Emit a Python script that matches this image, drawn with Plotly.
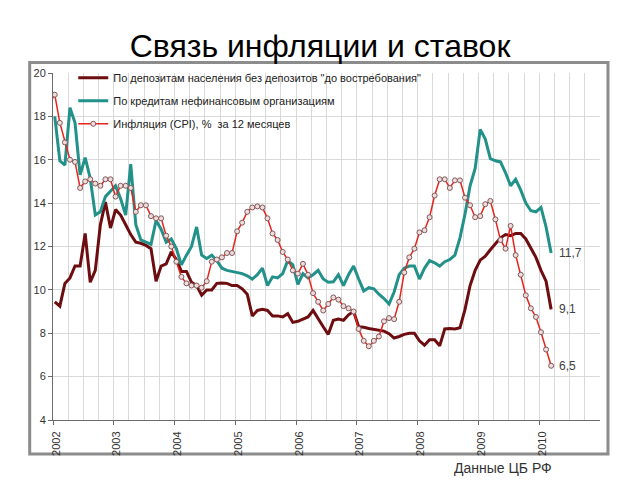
import plotly.graph_objects as go

# ---------------- data (monthly, %) ----------------
deposit_rate = [
    9.45, 9.25, 10.3, 10.55, 11.1, 11.1, 12.6, 10.35, 10.9, 13.0, 14.05, 12.85,   # 2002
    13.7, 13.45, 13.0, 12.55, 12.2, 12.15, 12.05, 11.9, 10.4, 11.1, 11.2, 11.75,  # 2003
    11.4, 10.85, 10.85, 10.35, 10.2, 9.75, 10.0, 10.0, 10.3, 10.32, 10.3, 10.2,   # 2004
    10.2, 10.05, 9.8, 8.8, 9.05, 9.1, 9.05, 8.8, 8.8, 8.75, 8.9, 8.5,             # 2005
    8.55, 8.65, 8.75, 9.05, 8.65, 8.3, 7.95, 8.6, 8.65, 8.6, 8.85, 9.0,           # 2006
    8.3, 8.28, 8.22, 8.17, 8.14, 8.1, 7.98, 7.78, 7.85, 7.95, 8.0, 8.0,           # 2007
    7.65, 7.45, 7.7, 7.7, 7.42, 8.2, 8.22, 8.2, 8.25, 9.1, 10.2, 10.9,            # 2008
    11.37, 11.55, 11.85, 12.15, 12.4, 12.55, 12.5, 12.6, 12.6, 12.35, 11.95, 11.5,# 2009
    10.9, 10.4, 9.1,                                                              # 2010
]
credit_rate = [
    18.0, 15.95, 15.75, 18.4, 17.7, 15.3, 16.1, 15.15, 13.45, 13.6, 14.3, 14.55,  # 2002
    14.8, 14.2, 13.45, 15.8, 13.0, 12.3, 12.2, 12.1, 13.2, 12.8, 12.2, 12.35,     # 2003
    11.9, 11.15, 11.6, 12.0, 12.9, 11.6, 11.45, 11.6, 11.35, 11.0, 10.9, 10.85,   # 2004
    10.8, 10.75, 10.65, 10.5, 10.7, 11.0, 10.2, 10.6, 10.55, 10.75, 11.35, 11.15, # 2005
    10.25, 10.75, 10.55, 10.7, 10.9, 10.5, 10.35, 10.37, 10.7, 10.2, 10.7, 11.1,  # 2006
    10.5, 9.95, 10.1, 10.05, 9.8, 9.6, 9.35, 9.9, 10.7, 11.0, 11.1, 11.1,         # 2007
    10.5, 11.0, 11.35, 11.25, 11.1, 11.3, 11.4, 11.6, 12.4, 13.5, 14.8, 15.6,     # 2008
    17.4, 16.95, 16.05, 15.95, 15.9, 15.4, 14.8, 15.1, 14.6, 14.0, 13.65, 13.6,   # 2009
    13.8, 12.9, 11.7,                                                             # 2010
]
inflation = [
    18.6,                                                                         # Dec 2001
    19.0, 17.7, 16.8, 16.0, 15.9, 14.7, 15.0, 15.1, 14.9, 14.8, 15.1, 15.1,       # 2002
    14.3, 14.8, 14.8, 14.7, 13.6, 13.9, 13.9, 13.4, 13.3, 13.3, 12.5, 12.0,       # 2003
    11.3, 10.6, 10.3, 10.2, 10.2, 10.1, 10.4, 11.3, 11.4, 11.5, 11.7, 11.7,       # 2004
    12.7, 13.1, 13.6, 13.8, 13.85, 13.8, 13.3, 12.6, 12.3, 11.75, 11.4, 10.9,     # 2005
    10.75, 11.2, 10.7, 9.85, 9.45, 9.05, 9.35, 9.65, 9.55, 9.25, 9.15, 9.0,       # 2006
    8.2, 7.65, 7.4, 7.65, 7.85, 8.55, 8.7, 8.65, 9.45, 10.8, 11.5, 11.9,          # 2007
    12.65, 12.75, 13.35, 14.35, 15.1, 15.1, 14.7, 15.05, 15.05, 14.25, 13.9, 13.35,  # 2008
    13.4, 13.95, 14.1, 13.25, 12.3, 11.9, 12.95, 11.6, 10.7, 9.75, 9.15, 8.75,    # 2009
    8.05, 7.25, 6.5,                                                              # 2010
]
rates_start = (2002, 1)
inflation_start = (2001, 12)
year_ticks = [2002, 2003, 2004, 2005, 2006, 2007, 2008, 2009, 2010]
names = [
    'По депозитам населения без депозитов "до востребования"',
    'По кредитам нефинансовым организациям',
    'Инфляция (CPI), %  за 12 месяцев',
]
title_text = "Связь инфляции и ставок"
source_text = "Данные ЦБ РФ"


def month_axis(start, n):
    y, m = start
    return [y + (m - 1 + i + 0.35) / 12.0 for i in range(n)]


x_rates = month_axis(rates_start, len(deposit_rate))
x_infl = month_axis(inflation_start, len(inflation))

C_DEP = "#6d0d10"
C_CRED = "#21918a"
C_INFL = "#e8231c"
FONT = "Liberation Sans, Arial, sans-serif"

fig = go.Figure()
fig.add_trace(go.Scatter(x=x_rates, y=deposit_rate, mode="lines", name=names[0],
                         legendgroup="a",
                         line=dict(color=C_DEP, width=3)))
fig.add_trace(go.Scatter(x=x_rates, y=credit_rate, mode="lines", name=names[1],
                         legendgroup="b",
                         line=dict(color=C_CRED, width=3)))
fig.add_trace(go.Scatter(x=x_infl, y=inflation, mode="lines+markers", name=names[2],
                         legendgroup="c",
                         line=dict(color=C_INFL, width=1.5),
                         marker=dict(symbol="circle", size=5, color="#f1dcdc",
                                     line=dict(color="#80585a", width=1))))

# end-value labels
for xs, ys in ((x_rates, credit_rate), (x_rates, deposit_rate), (x_infl, inflation)):
    fig.add_annotation(x=xs[-1], y=ys[-1], text=f"{ys[-1]:.1f}".replace(".", ","),
                       xanchor="left", yanchor="middle", xshift=6, showarrow=False,
                       font=dict(family=FONT, size=12, color="#404040"))

fig.add_annotation(xref="paper", yref="paper", x=0.729, y=-0.138, text=source_text,
                   xanchor="left", yanchor="middle", showarrow=False,
                   font=dict(family=FONT, size=14, color="#333333"))

grid_c = "#d9d9d9"
fig.update_xaxes(range=[2002, 2011], tickmode="array", tickvals=year_ticks,
                 ticktext=[str(v) for v in year_ticks], tickangle=-90,
                 ticklabelshift=3, ticklabelstandoff=2,
                 showgrid=True, gridcolor=grid_c, gridwidth=1,
                 minor=dict(tickmode="linear", tick0=2002, dtick=0.25, showgrid=True,
                            gridcolor=grid_c, gridwidth=1),
                 showline=True, linecolor="#6b6b6b", linewidth=1,
                 ticks="outside", ticklen=4, tickcolor="#6b6b6b",
                 tickfont=dict(family=FONT, size=11, color="#333333"),
                 zeroline=False)
fig.update_yaxes(range=[4, 20], tick0=4, dtick=2,
                 showgrid=True, gridcolor=grid_c, gridwidth=1,
                 showline=True, linecolor="#6b6b6b", linewidth=1,
                 ticks="outside", ticklen=4, tickcolor="#6b6b6b",
                 tickfont=dict(family=FONT, size=11, color="#333333"),
                 zeroline=False)

fig.update_layout(
    width=640, height=480,
    margin=dict(l=53, r=40, t=73, b=60),
    paper_bgcolor="white", plot_bgcolor="white",
    font=dict(family=FONT, size=11, color="#222222"),
    title=dict(text=title_text, x=0.5, xanchor="center", xref="container",
               y=0.905, yanchor="middle",
               font=dict(family=FONT, size=32, color="#000000")),
    showlegend=True,
    legend=dict(x=0.037, y=1.028, xanchor="left", yanchor="top",
                bgcolor="rgba(0,0,0,0)", borderwidth=0, tracegroupgap=4,
                itemwidth=30,
                font=dict(family=FONT, size=11, color="#222222")),
    shapes=[
        dict(type="rect", xref="paper", yref="paper",
             x0=-0.0426, x1=1.0146, y0=-0.098, y1=1.03,
             line=dict(color="#8c8c8c", width=3), layer="below"),
        # legend backdrop: hides gridlines, lines stay visible
        dict(type="rect", xref="paper", yref="paper",
             x0=0.027, x1=0.716, y0=0.82, y1=1.004,
             fillcolor="white", line=dict(width=0), layer="between"),
    ],
)

fig.write_html("out.html")
